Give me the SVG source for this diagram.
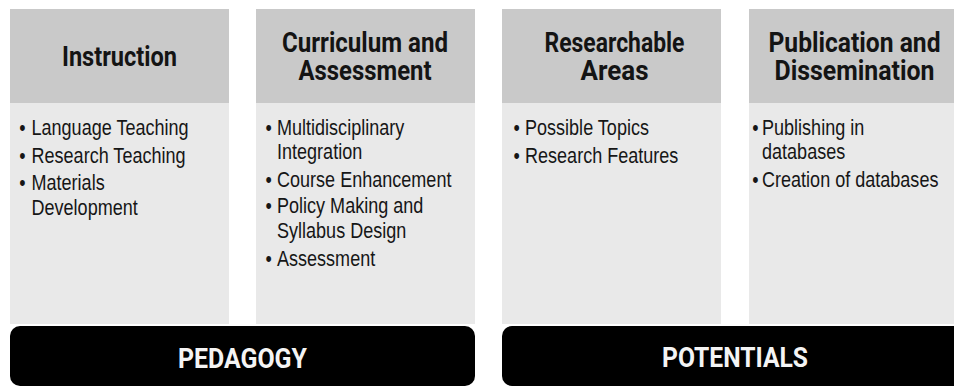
<svg xmlns="http://www.w3.org/2000/svg" width="954" height="387" viewBox="0 0 954 387">
  <style>
    .head { fill: #c9c9c9; }
    .body { fill: #e9e9e9; }
    .bar { fill: #000000; }
    .title { font-family: Roboto, "DejaVu Sans", sans-serif; font-weight: bold; font-size: 27px; fill: #141414; text-anchor: middle; }
    .label { font-family: Roboto, "DejaVu Sans", sans-serif; font-weight: bold; font-size: 27px; fill: #f4f4f4; text-anchor: middle; }
    .item { font-family: "Liberation Sans", Arial, sans-serif; font-size: 22px; fill: #161616; }
  </style>

  <!-- Column 1: Instruction -->
  <g id="instruction">
    <rect class="head" x="10" y="9" width="219" height="94"/>
    <rect class="body" x="10" y="103" width="219" height="221"/>
    <text class="title" x="119.5" y="66" textLength="115" lengthAdjust="spacingAndGlyphs">Instruction</text>
    <!-- narrow body type: items drawn at 82% width from the text column -->
    <g transform="translate(31.5 0) scale(0.82 1)">
      <text class="item" x="-15" y="135">•</text>
      <text class="item" x="0" y="135">Language Teaching</text>
      <text class="item" x="-15" y="163">•</text>
      <text class="item" x="0" y="163">Research Teaching</text>
      <text class="item" x="-15" y="190">•</text>
      <text class="item" x="0" y="190">Materials</text>
      <text class="item" x="0" y="215">Development</text>
    </g>
  </g>

  <!-- Column 2: Curriculum and Assessment -->
  <g id="curriculum">
    <rect class="head" x="256" y="9" width="219" height="94"/>
    <rect class="body" x="256" y="103" width="219" height="221"/>
    <text class="title" x="365" y="52" textLength="166" lengthAdjust="spacingAndGlyphs">Curriculum and</text>
    <text class="title" x="365" y="80" textLength="133" lengthAdjust="spacingAndGlyphs">Assessment</text>
    <g transform="translate(277 0) scale(0.82 1)">
      <text class="item" x="-14" y="135">•</text>
      <text class="item" x="0" y="135">Multidisciplinary</text>
      <text class="item" x="0" y="159">Integration</text>
      <text class="item" x="-14" y="187">•</text>
      <text class="item" x="0" y="187">Course Enhancement</text>
      <text class="item" x="-14" y="213">•</text>
      <text class="item" x="0" y="213">Policy Making and</text>
      <text class="item" x="0" y="238">Syllabus Design</text>
      <text class="item" x="-14" y="266">•</text>
      <text class="item" x="0" y="266">Assessment</text>
    </g>
  </g>

  <!-- Column 3: Researchable Areas -->
  <g id="researchable">
    <rect class="head" x="502" y="9" width="219" height="94"/>
    <rect class="body" x="502" y="103" width="219" height="221"/>
    <text class="title" x="614.5" y="52" textLength="140" lengthAdjust="spacingAndGlyphs">Researchable</text>
    <text class="title" x="614.5" y="80" textLength="68" lengthAdjust="spacingAndGlyphs">Areas</text>
    <g transform="translate(525 0) scale(0.82 1)">
      <text class="item" x="-14" y="135">•</text>
      <text class="item" x="0" y="135">Possible Topics</text>
      <text class="item" x="-14" y="163">•</text>
      <text class="item" x="0" y="163">Research Features</text>
    </g>
  </g>

  <!-- Column 4: Publication and Dissemination -->
  <g id="publication">
    <rect class="head" x="749" y="9" width="219" height="94"/>
    <rect class="body" x="749" y="103" width="219" height="221"/>
    <text class="title" x="854.5" y="52" textLength="172" lengthAdjust="spacingAndGlyphs">Publication and</text>
    <text class="title" x="854.5" y="80" textLength="160" lengthAdjust="spacingAndGlyphs">Dissemination</text>
    <g transform="translate(762 0) scale(0.82 1)">
      <text class="item" x="-12" y="135">•</text>
      <text class="item" x="0" y="135">Publishing in</text>
      <text class="item" x="0" y="159">databases</text>
      <text class="item" x="-12" y="187">•</text>
      <text class="item" x="0" y="187">Creation of databases</text>
    </g>
  </g>

  <!-- Footer bars -->
  <g id="pedagogy">
    <rect class="bar" x="10" y="326" width="465" height="60" rx="10"/>
    <text class="label" x="242.5" y="368" textLength="129" lengthAdjust="spacingAndGlyphs">PEDAGOGY</text>
  </g>
  <g id="potentials">
    <rect class="bar" x="502" y="326" width="466" height="60" rx="10"/>
    <text class="label" x="735" y="367" textLength="146" lengthAdjust="spacingAndGlyphs">POTENTIALS</text>
  </g>

  <g id="connectors"/>
</svg>
